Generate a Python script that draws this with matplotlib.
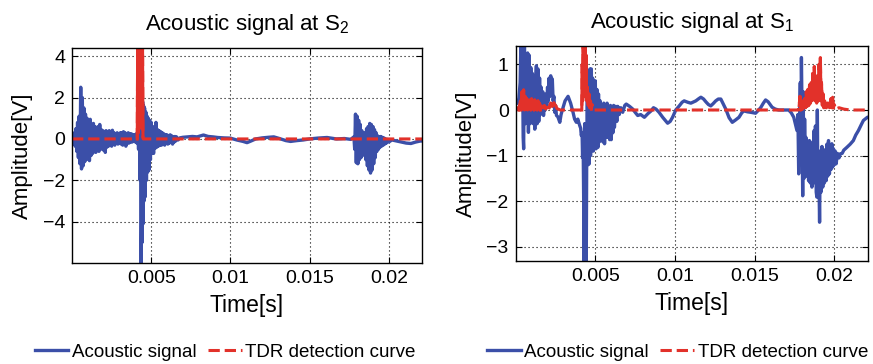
import numpy as np
import matplotlib
matplotlib.use("Agg")
import matplotlib.pyplot as plt

plt.rcParams['font.family'] = ['Liberation Sans', 'DejaVu Sans']
plt.rcParams['mathtext.fontset'] = 'custom'
plt.rcParams['mathtext.rm'] = 'Liberation Sans'
plt.rcParams['mathtext.it'] = 'Liberation Sans:italic'
plt.rcParams['path.simplify'] = False

# ---------------- data (time in ms, amplitude in V) ----------------
s2_acoustic_t = [0.00, 0.05, 0.10, 0.15, 0.20, 0.25, 0.30, 0.35, 0.40, 0.45, 0.50, 0.55, 0.60, 0.65, 0.70, 0.75,
                 0.80, 0.85, 0.90, 0.95, 1.00, 1.05, 1.10, 1.15, 1.20, 1.25, 1.30, 1.35, 1.40, 1.45, 1.50, 1.55,
                 1.60, 1.65, 1.70, 1.75, 1.80, 1.85, 1.90, 1.95, 2.00, 2.05, 2.10, 2.15, 2.20, 2.25, 2.30, 2.35,
                 2.40, 2.45, 2.50, 2.55, 2.60, 2.65, 2.70, 2.75, 2.80, 2.85, 2.90, 2.95, 3.00, 3.05, 3.10, 3.15,
                 3.20, 3.25, 3.30, 3.35, 3.40, 3.45, 3.50, 3.55, 3.60, 3.65, 3.70, 3.75, 3.80, 3.85, 3.90, 3.95,
                 4.00, 4.05, 4.10, 4.15, 4.20, 4.25, 4.30, 4.33, 4.36, 4.39, 4.41, 4.43, 4.46, 4.49, 4.52, 4.55,
                 4.58, 4.62, 4.66, 4.70, 4.74, 4.78, 4.82, 4.86, 4.90, 4.95, 5.00, 5.05, 5.10, 5.15, 5.20, 5.25,
                 5.30, 5.35, 5.40, 5.45, 5.50, 5.55, 5.60, 5.65, 5.70, 5.75, 5.80, 5.85, 5.90, 5.95, 6.00, 6.05,
                 6.10, 6.15, 6.20, 6.25, 6.30, 6.35, 6.40, 6.45, 6.50, 6.55, 6.60, 6.70, 6.80, 7.00, 7.30, 7.60,
                 7.90, 8.30, 8.60, 8.90, 9.20, 9.60, 10.0, 10.4, 10.8, 11.05, 11.3, 11.6, 12.0, 12.4, 12.74, 13.1,
                 13.5, 13.8, 14.2, 14.6, 15.0, 15.5, 16.1, 16.7, 17.2, 17.6, 17.8, 17.85, 17.9, 17.95, 18.0, 18.05,
                 18.1, 18.15, 18.2, 18.25, 18.3, 18.35, 18.4, 18.45, 18.5, 18.55, 18.6, 18.65, 18.7, 18.75, 18.8,
                 18.85, 18.9, 18.95, 19.0, 19.05, 19.1, 19.15, 19.2, 19.25, 19.3, 19.35, 19.4, 19.45, 19.5, 19.55,
                 19.6, 19.65, 19.7, 19.75, 19.8, 19.85, 19.9, 20.0, 20.2, 20.5, 20.8, 21.1, 21.4, 21.7, 22.0, 22.2]
s2_acoustic_v = [0.0, 0.2, -0.25, 0.3, -0.35, 0.5, -0.6, 0.8, -0.9, 1.1, -1.2, 2.5, -1.45, 2.0, -1.3, 1.5,
                 -1.1, 1.2, -1.0, 1.0, -0.9, 0.8, -1.05, 0.95, -0.8, 0.7, -0.7, 0.75, -0.6, 0.6, -0.65, 0.5,
                 -0.55, 0.6, -0.6, 0.7, -0.45, 0.45, -0.5, 0.4, -0.55, 0.35, -0.65, 0.4, -0.4, 0.3, -0.35, 0.4,
                 -0.3, 0.35, -0.35, 0.42, -0.25, 0.3, -0.3, 0.25, -0.2, 0.3, -0.25, 0.25, -0.2, 0.3, -0.25, 0.3,
                 -0.3, 0.35, -0.25, 0.3, -0.35, 0.25, -0.2, 0.3, -0.2, 0.25, -0.15, 0.25, -0.15, 0.2, -0.1, 0.2,
                 -0.15, 0.25, -0.2, 0.3, -0.5, 0.4, -2.0, 0.5, -6.5, -4.0, 1.5, -5.0, 1.8, -4.1, 1.6, -3.0,
                 1.5, -2.8, 1.3, -2.0, 1.1, -1.6, 1.0, -1.5, 0.9, -1.0, 0.8, -0.7, 0.6, -0.7, 0.55, -0.45,
                 0.8, -0.4, 0.45, -0.35, 0.4, -0.3, 0.35, -0.3, 0.3, -0.25, 0.25, -0.3, 0.2, -0.2, 0.2, -0.25,
                 0.15, -0.2, 0.2, -0.15, 0.15, -0.25, 0.1, -0.15, 0.12, -0.1, 0.1, -0.05, 0.05, 0.08, 0.1, 0.12,
                 0.1, 0.19, 0.12, 0.1, 0.07, 0.05, 0.04, -0.05, -0.12, -0.18, -0.1, 0.0, 0.05, 0.08, 0.1, 0.02,
                 -0.08, -0.12, -0.08, -0.05, 0.0, 0.04, 0.07, 0.0, 0.02, -0.02, 0.1, -0.5, 1.2, -1.15, 1.1, -1.2,
                 0.9, -1.0, 0.7, -0.9, 0.4, -0.8, 0.15, -0.7, 0.3, -1.0, 0.5, -1.3, 0.6, -1.5, 0.75,
                 -1.65, 0.7, -1.5, 0.6, -1.2, 0.45, -0.9, 0.3, -0.6, 0.15, -0.5, 0.1, -0.4, 0.12, -0.35,
                 0.08, -0.3, 0.05, -0.25, 0.0, -0.2, -0.02, -0.15, -0.05, -0.1, -0.15, -0.2, -0.22, -0.15, -0.1, -0.1]

s2_tdr_t = [0.0, 4.12, 4.15, 4.18, 4.21, 4.24, 4.27, 4.30, 4.33, 4.36, 4.39, 4.42, 4.45, 4.48, 4.50, 22.2]
s2_tdr_v = [0.0, 0.0, 5.5, 0.3, 6.0, 0.5, 6.0, 1.0, 6.0, 0.8, 6.0, 0.5, 5.0, 0.1, 0.0, 0.0]

s1_acoustic_t = [0.0, 0.1, 0.2, 0.28, 0.33, 0.38, 0.42, 0.47, 0.5, 0.55, 0.6, 0.65, 0.7, 0.75, 0.8, 0.85,
                 0.9, 0.95, 1.0, 1.05, 1.1, 1.15, 1.2, 1.25, 1.3, 1.35, 1.4, 1.45, 1.5, 1.55, 1.6, 1.65,
                 1.7, 1.75, 1.8, 1.85, 1.9, 1.95, 2.0, 2.05, 2.1, 2.15, 2.2, 2.25, 2.3, 2.35, 2.4, 2.45,
                 2.5, 2.56, 2.65, 2.77, 2.85, 2.98, 3.1, 3.29, 3.45, 3.6, 3.7, 3.81, 3.9, 4.02, 4.08, 4.12,
                 4.17, 4.2, 4.23, 4.27, 4.30, 4.33, 4.37, 4.40, 4.43, 4.46, 4.50, 4.54, 4.58, 4.62, 4.66, 4.70,
                 4.75, 4.79, 4.83, 4.88, 4.92, 4.96, 5.0, 5.05, 5.1, 5.16, 5.2, 5.25, 5.3, 5.37, 5.42, 5.48,
                 5.53, 5.58, 5.63, 5.69, 5.74, 5.79, 5.84, 5.9, 5.95, 6.0, 6.05, 6.1, 6.15, 6.2, 6.28, 6.35,
                 6.41, 6.5, 6.6, 6.72, 6.85, 6.94, 7.15, 7.35, 7.5, 7.66, 7.85, 8.08, 8.3, 8.5, 8.65, 8.81,
                 9.0, 9.23, 9.54, 9.7, 9.85, 10.05, 10.27, 10.45, 10.58, 10.8, 11.0, 11.31, 11.5, 11.63, 11.8, 11.94,
                 12.1, 12.25, 12.4, 12.56, 12.72, 12.88, 13.05, 13.19, 13.4, 13.6, 13.8, 14.02, 14.2, 14.33, 14.55, 14.75,
                 15.06, 15.2, 15.38, 15.55, 15.69, 15.85, 16.1, 16.3, 16.52, 16.8, 17.14, 17.3, 17.46, 17.66, 17.72, 17.77,
                 17.82, 17.87, 17.91, 17.94, 17.97, 18.02, 18.05, 18.1, 18.14, 18.19, 18.22, 18.27, 18.32, 18.39, 18.44, 18.5,
                 18.55, 18.6, 18.65, 18.7, 18.74, 18.77, 18.82, 18.87, 18.91, 18.94, 18.97, 19.02, 19.08, 19.12, 19.17, 19.23,
                 19.28, 19.33, 19.38, 19.44, 19.49, 19.54, 19.59, 19.64, 19.7, 19.75, 19.8, 19.85, 19.9, 19.95, 20.0, 20.06,
                 20.12, 20.2, 20.3, 20.38, 20.5, 20.6, 20.79, 21.0, 21.2, 21.35, 21.52, 21.7, 21.83, 22.08, 22.2]
s1_acoustic_v = [0.13, 0.15, 0.25, 0.6, 1.5, 0.2, 1.5, -0.6, -0.85, 1.5, -0.3, 1.1, -0.2, 1.25, -0.49, 1.2,
                 -0.3, 0.93, -0.2, 0.8, -0.3, 0.75, -0.42, 0.6, 0.97, -0.3, 0.9, -0.25, 0.7, -0.1, 0.5, -0.05,
                 0.4, -0.12, 0.31, 0.0, 0.35, 0.1, 0.5, 0.2, 0.7, 0.3, 0.75, 0.4, 0.68, 0.2, 0.3, -0.05,
                 0.1, -0.12, -0.15, -0.27, -0.1, 0.06, 0.2, 0.3, 0.15, -0.05, -0.2, -0.27, -0.2, -0.34, -0.4, -0.56,
                 -0.5, -1.04, -0.5, -2.0, -3.4, -0.3, -2.13, -0.3, -3.4, -1.0, 0.3, -1.2, 0.6, -1.18, 0.9, -1.0,
                 0.9, -0.89, 0.7, -0.9, 0.6, -0.8, 0.64, -0.85, 0.45, -0.82, 0.35, -0.7, 0.2, -0.67, 0.1, -0.7,
                 0.15, -0.74, 0.1, -0.6, 0.15, -0.6, 0.05, -0.65, 0.1, -0.65, 0.05, -0.5, 0.1, -0.38, 0.08, -0.25,
                 0.08, -0.1, 0.05, -0.05, 0.1, 0.13, 0.08, 0.02, -0.05, -0.12, -0.1, -0.16, -0.08, -0.02, 0.05, 0.02,
                 -0.05, -0.16, -0.29, -0.25, -0.16, 0.0, 0.09, 0.17, 0.2, 0.17, 0.15, 0.2, 0.25, 0.28, 0.24, 0.18,
                 0.12, 0.09, 0.14, 0.2, 0.24, 0.24, 0.12, 0.02, -0.17, -0.27, -0.22, -0.16, -0.06, -0.02, -0.04, -0.05,
                 -0.07, -0.02, 0.05, 0.15, 0.22, 0.18, 0.06, 0.02, 0.0, 0.0, 0.0, -0.06, -0.16, -0.45, -0.1, -1.4,
                 -0.3, 0.6, -0.8, 1.15, 0.2, -1.88, 0.4, -1.5, -0.2, -1.25, -0.6, -1.45, -0.7, -1.55, -0.67, -1.6,
                 -0.8, -1.69, -0.7, -1.6, -0.45, -1.55, -0.35, -1.8, -1.91, 0.0, -1.5, -1.0, -2.46, -0.9, -1.8, -0.8,
                 -1.69, -0.9, -1.6, -0.87, -1.55, -0.75, -1.45, -0.67, -1.4, -0.8, -1.3, -0.74, -1.25, -0.85, -1.2, -0.9,
                 -1.18, -0.95, -1.05, -0.96, -0.95, -0.88, -0.82, -0.75, -0.67, -0.55, -0.45, -0.32, -0.23, -0.16, -0.15]

s1_tdr_t = [0.0, 0.1, 0.2, 0.3, 0.35, 0.4, 0.45, 0.5, 0.55, 0.6, 0.65, 0.7, 0.75, 0.8, 0.85, 0.9,
            0.95, 1.0, 1.05, 1.1, 1.15, 1.2, 1.25, 1.3, 1.35, 1.4, 1.45, 1.5, 1.55, 1.6, 1.7, 1.8,
            1.9, 2.0, 2.1, 2.2, 2.3, 2.4, 2.5, 2.6, 2.8, 4.15, 4.18, 4.21, 4.24, 4.27, 4.30, 4.33,
            4.36, 4.39, 4.42, 4.46, 4.50, 4.55, 4.6, 4.65, 4.7, 4.75, 4.8, 4.9, 17.75, 17.8, 17.85, 17.9,
            17.95, 18.0, 18.05, 18.1, 18.15, 18.2, 18.25, 18.3, 18.35, 18.4, 18.45, 18.5, 18.55, 18.6, 18.65, 18.7,
            18.75, 18.8, 18.85, 18.9, 18.95, 19.0, 19.05, 19.1, 19.13, 19.17, 19.2, 19.25, 19.3, 19.35, 19.4, 19.5,
            19.6, 19.7, 19.8, 19.85, 19.9, 19.95, 20.0, 20.1, 20.3, 20.6, 21.0, 22.2]
s1_tdr_v = [0.0, 0.05, 0.0, 0.2, 0.0, 0.4, 0.05, 0.44, 0.0, 0.3, 0.02, 0.25, 0.0, 0.2, 0.05, 0.22,
            0.0, 0.25, 0.03, 0.2, 0.0, 0.22, 0.02, 0.18, 0.0, 0.2, 0.03, 0.15, 0.0, 0.12, 0.02, 0.1,
            0.02, 0.12, 0.05, 0.15, 0.08, 0.16, 0.1, 0.03, 0.0, 0.0, 1.0, 0.2, 1.6, 0.3, 1.6, 0.4,
            1.6, 0.3, 1.2, 0.2, 0.5, 0.1, 0.35, 0.05, 0.2, 0.02, 0.12, 0.0, 0.0, 0.1, 0.3, 0.0,
            0.15, 0.02, 0.2, 0.05, 0.25, 0.05, 0.4, 0.08, 0.45, 0.1, 0.55, 0.15, 0.6, 0.2, 0.8, 0.25,
            0.95, 0.2, 0.65, 0.15, 0.75, 0.2, 1.0, 0.3, 1.15, 0.2, 0.6, 0.1, 0.35, 0.05, 0.2, 0.05,
            0.15, 0.05, 0.25, 0.05, 0.28, 0.05, 0.12, 0.02, 0.05, 0.02, 0.0, 0.0]

x_ticks = [0.005, 0.01, 0.015, 0.02]
x_tick_labels = ['0.005', '0.01', '0.015', '0.02']
s2_y_ticks = [-4, -2, 0, 2, 4]
s1_y_ticks = [-3, -2, -1, 0, 1]

BLUE = '#3b4fa8'
RED = '#e2312a'

fig = plt.figure(figsize=(8.73, 3.64), dpi=100)
ax_l = fig.add_axes([0.0825, 0.2775, 0.4009, 0.5907])
ax_r = fig.add_axes([0.5907, 0.283, 0.4032, 0.5915])


def draw(ax, at, av, rt, rv, ylim, yticks, title, leg_x):
    t_a = np.array(at) * 1e-3
    t_r = np.array(rt) * 1e-3
    rv = np.array(rv)
    la, = ax.plot(t_a, av, color=BLUE, lw=2.4, solid_joinstyle='round')
    lr, = ax.plot(t_r, rv, color=RED, lw=2.2, ls='--')
    near = np.convolve((np.abs(rv) > 0.12).astype(int), [1, 1, 1], 'same') > 0
    ax.plot(t_r, np.ma.masked_where(~near, rv), color=RED, lw=2.2,
            solid_joinstyle='round')
    ax.set_xlim(0, 0.0221)
    ax.set_ylim(*ylim)
    ax.set_xticks(x_ticks)
    ax.set_xticklabels(x_tick_labels)
    ax.set_yticks(yticks)
    ax.grid(True, color='black', ls=(0, (1, 2.6)), lw=0.8)
    ax.tick_params(direction='in', length=4, width=0.8, labelsize=14, pad=5,
                   top=True, right=True)
    for s in ax.spines.values():
        s.set_linewidth(1.0)
    ax.set_title(title, fontsize=16, pad=13)
    ax.set_xlabel('Time[s]', fontsize=16.5, labelpad=5)
    ax.set_ylabel('Amplitude[V]', fontsize=16, labelpad=7)
    fig.legend([la, lr], ['Acoustic signal', 'TDR detection curve'], loc='center',
               bbox_to_anchor=(leg_x, 0.033), ncol=2, frameon=False, fontsize=13.5,
               handlelength=1.8, handletextpad=0.2, columnspacing=0.6, borderpad=0)


draw(ax_l, s2_acoustic_t, s2_acoustic_v, s2_tdr_t, s2_tdr_v, (-6.0, 4.4), s2_y_ticks,
     'Acoustic signal at $\\mathregular{S_2}$', 0.258)
draw(ax_r, s1_acoustic_t, s1_acoustic_v, s1_tdr_t, s1_tdr_v, (-3.31, 1.41), s1_y_ticks,
     'Acoustic signal at $\\mathregular{S_1}$', 0.776)

fig.savefig('out.png', dpi=100)
